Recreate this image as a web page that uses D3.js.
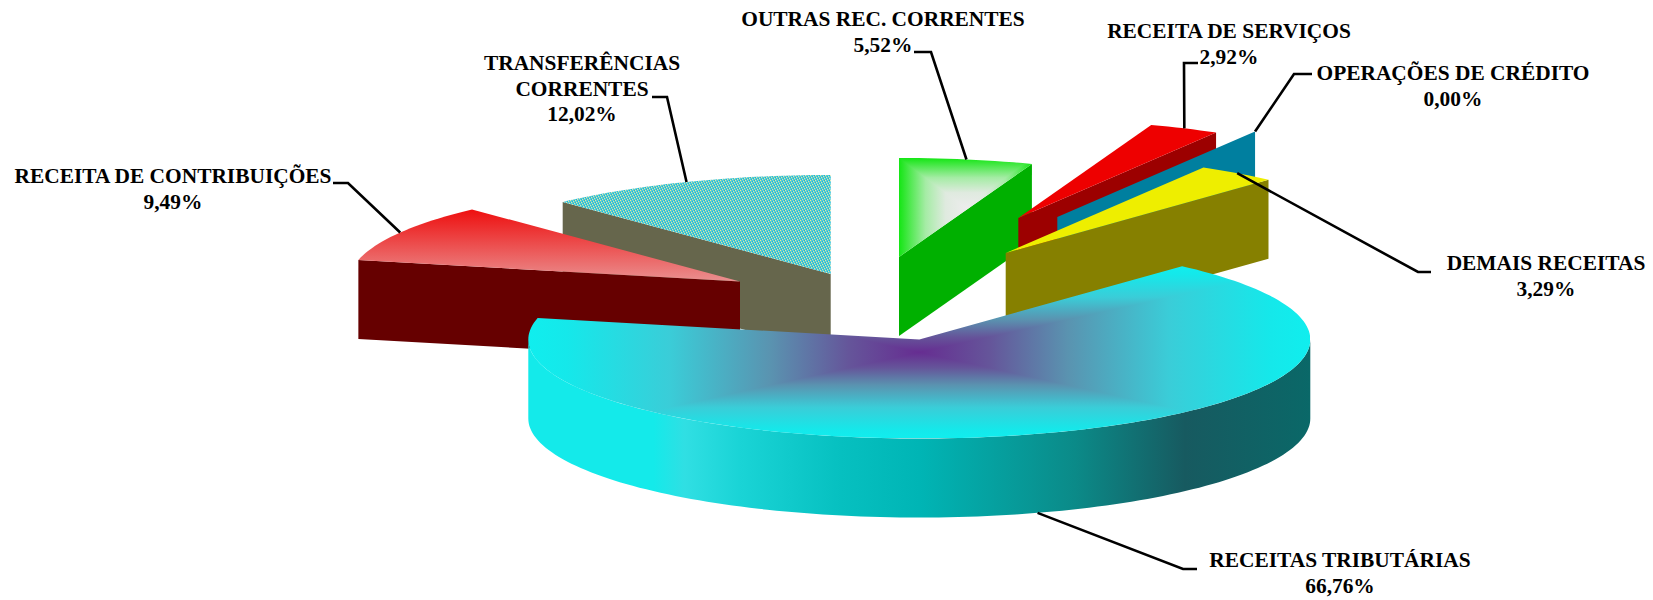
<!DOCTYPE html>
<html>
<head>
<meta charset="utf-8">
<script src="https://cdn.jsdelivr.net/npm/d3@7"></script>
<style>
    html, body { margin: 0; padding: 0; background: #fff; }
    svg { display: block; }
    .label { font-family: "Liberation Serif", serif; font-weight: bold; font-size: 21.4px; fill: #000; text-anchor: middle; }
    .leader { fill: none; stroke: #000; stroke-width: 2.6; }
</style>
</head>
<body>
<svg id="chart" width="1653" height="600"></svg>
<script>
// values go clockwise from 12 o'clock, same order as the original slices
var categories = ["OUTRAS REC. CORRENTES", "RECEITA DE SERVIÇOS", "OPERAÇÕES DE CRÉDITO", "DEMAIS RECEITAS", "RECEITAS TRIBUTÁRIAS", "RECEITA DE CONTRIBUIÇÕES", "TRANSFERÊNCIAS CORRENTES"]
var percents = [5.52, 2.92, 0.00, 3.29, 66.76, 9.49, 12.02]

// how far each slice was pulled out of the pie (px)
var explodeX = [-20.3, 99, 138, 86.4, 0, -179.3, -88.6]
var explodeY = [-82.5, -121.5, -122.5, -86.5, 0, -58, -65.5]

var labelLines = [["OUTRAS REC. CORRENTES"], ["RECEITA DE SERVIÇOS"], ["OPERAÇÕES DE CRÉDITO"], ["DEMAIS RECEITAS"], ["RECEITAS TRIBUTÁRIAS"], ["RECEITA DE CONTRIBUIÇÕES"], ["TRANSFERÊNCIAS", "CORRENTES"]]
var labelX = [883, 1229, 1453, 1546, 1340, 173, 582]
var labelY = [26, 38, 80, 270, 567, 183, 70]
var elbowFromX = [914, 1198, 1312, 1431, 1197, 333, 652]
var elbowToX = [931, 1184, 1294, 1418, 1183, 348, 667]
var elbowY = [52, 63, 74, 272, 569, 183, 97]

var sideColors = ["#00b000", "#9c0000", "#007f9f", "#868000", null, "#660000", "#66664c"]

var cx = 919.3, cy = 339.5, rx = 391, ry = 99, depth = 79

const svg = d3.select("#chart")
const defs = svg.append("defs")

const pie = d3.pie().sort(null).startAngle(0).endAngle(2 * Math.PI)
const arcs = pie(percents)

const X_scale = d3.scaleLinear().domain([-1, 1]).range([cx - rx, cx + rx])
const Y_scale = d3.scaleLinear().domain([-1, 1]).range([cy + ry, cy - ry])
const line = d3.line()

function rimPoint(i, a, drop) {
    return [X_scale(Math.sin(a)) + explodeX[i], Y_scale(Math.cos(a)) + explodeY[i] + (drop || 0)]
}
function apex(i, drop) {
    return [cx + explodeX[i], cy + explodeY[i] + (drop || 0)]
}
function rimPoints(i, a0, a1, drop) {
    var n = Math.max(1, Math.ceil((a1 - a0) * 40))
    return d3.range(n + 1).map(k => rimPoint(i, a0 + (a1 - a0) * k / n, drop))
}
function topPoints(i) {
    return [apex(i)].concat(rimPoints(i, arcs[i].startAngle, arcs[i].endAngle))
}
function topPath(i) {
    return line(topPoints(i)) + "Z"
}

function linearGradient(id, x1, y1, x2, y2, stops) {
    var g = defs.append("linearGradient").attr("id", id)
        .attr("gradientUnits", "userSpaceOnUse")
        .attr("x1", x1).attr("y1", y1).attr("x2", x2).attr("y2", y2)
    stops.forEach(s => g.append("stop").attr("offset", s[0]).attr("stop-color", s[1]))
}

// "from centre" fill like office charts: four triangles inside the slice bbox
function rectGradientFill(group, i, halfStops) {
    var pts = topPoints(i)
    var x0 = d3.min(pts, d => d[0]), x1 = d3.max(pts, d => d[0])
    var y0 = d3.min(pts, d => d[1]), y1 = d3.max(pts, d => d[1])
    var mx = (x0 + x1) / 2, my = (y0 + y1) / 2

    defs.append("clipPath").attr("id", "clip" + i).append("path").attr("d", topPath(i))
    // mirror the edge-to-centre stops
    var stops = halfStops.concat(halfStops.slice(0, -1).reverse().map(s => [1 - s[0], s[1]]))
    linearGradient("gx" + i, x0, 0, x1, 0, stops)
    linearGradient("gy" + i, 0, y0, 0, y1, stops)

    var g = group.append("g").attr("clip-path", `url(#clip${i})`)
    var tris = [
        [[x0, y0], [x1, y0], [mx, my], "gy"],
        [[x0, y1], [x1, y1], [mx, my], "gy"],
        [[x0, y0], [x0, y1], [mx, my], "gx"],
        [[x1, y0], [x1, y1], [mx, my], "gx"]
    ]
    tris.forEach(t => {
        g.append("path")
            .attr("d", line(t.slice(0, 3)) + "Z")
            .attr("fill", `url(#${t[3]}${i})`)
            .attr("shape-rendering", "crispEdges")
    })
}

// dithered fill of the transferencias slice
var dither = defs.append("pattern").attr("id", "dither")
    .attr("patternUnits", "userSpaceOnUse").attr("width", 5).attr("height", 5)
dither.append("rect").attr("width", 5).attr("height", 5).attr("fill", "#5ccbd0")
d3.range(5).forEach(k => {
    dither.append("rect").attr("x", k).attr("y", (2 * k) % 5).attr("width", 1).attr("height", 1).attr("fill", "#dfe6a8")
    dither.append("rect").attr("x", k).attr("y", (2 * k + 2) % 5).attr("width", 1).attr("height", 1).attr("fill", "#14b8dc")
})

linearGradient("wallGradient", cx - rx, 0, cx + rx, 0, [
    [0, "#14eaea"], [0.16, "#14eaea"], [0.2, "#30dfe3"], [0.27, "#1ad4d6"], [0.4, "#06c0c0"], [0.5, "#00b5b5"],
    [0.7, "#0b8a88"], [0.84, "#175a60"], [1, "#0a6868"]
])
var redTop = d3.min(topPoints(5), d => d[1])
linearGradient("redGradient", 0, redTop, 0, apex(5)[1], [[0, "#ee0f0f"], [1, "#ea9090"]])

var topFills = { 1: "#ee0000", 2: "#007f9f", 3: "#eeee00", 6: "url(#dither)", 5: "url(#redGradient)" }

// back to front
var drawOrder = [6, 5, 0, 1, 2, 3, 4]

drawOrder.forEach(i => {
    var d = arcs[i]
    var group = svg.append("g").attr("class", "slice")

    // cut faces that look at the viewer
    var cuts = []
    if (Math.sin(d.startAngle) < -1e-6) cuts.push(d.startAngle)
    if (Math.sin(d.endAngle) > 1e-6) cuts.push(d.endAngle)
    cuts.forEach(a => {
        group.append("path")
            .attr("d", line([apex(i), rimPoint(i, a), rimPoint(i, a, depth), apex(i, depth)]) + "Z")
            .attr("fill", sideColors[i])
    })

    // outer wall, only the part facing front
    var w0 = Math.max(d.startAngle, Math.PI / 2), w1 = Math.min(d.endAngle, 3 * Math.PI / 2)
    if (w1 > w0) {
        group.append("path")
            .attr("d", line(rimPoints(i, w0, w1).concat(rimPoints(i, w0, w1, depth).reverse())) + "Z")
            .attr("fill", "url(#wallGradient)")
    }

    if (i === 4) rectGradientFill(group, i, [[0, "#10eeee"], [0.05, "#15e8ea"], [0.18, "#3acdd8"], [0.31, "#5a93b0"], [0.41, "#65559a"], [0.5, "#662d91"]])
    else if (i === 0) rectGradientFill(group, i, [[0, "#14e614"], [0.2, "#a5eca5"], [0.35, "#dfeadf"], [0.5, "#ececec"]])
    else group.append("path").attr("d", topPath(i)).attr("fill", topFills[i])
})

// leaders end on the rim at the middle of each slice (on the bottom edge for the front one)
arcs.forEach((d, i) => {
    var mid = (d.startAngle + d.endAngle) / 2
    var front = Math.cos(mid) < 0
    svg.append("path").attr("class", "leader")
        .attr("d", line([[elbowFromX[i], elbowY[i]], [elbowToX[i], elbowY[i]], rimPoint(i, mid, front ? depth : 0)]))
})

categories.forEach((c, i) => {
    var lines = labelLines[i].concat([d3.format(".2f")(percents[i]).replace(".", ",") + "%"])
    var t = svg.append("text").attr("class", "label").attr("x", labelX[i]).attr("y", labelY[i])
    lines.forEach((s, k) => {
        t.append("tspan").attr("x", labelX[i]).attr("dy", k === 0 ? 0 : 25.7).text(s)
    })
})
</script>
</body>
</html>
